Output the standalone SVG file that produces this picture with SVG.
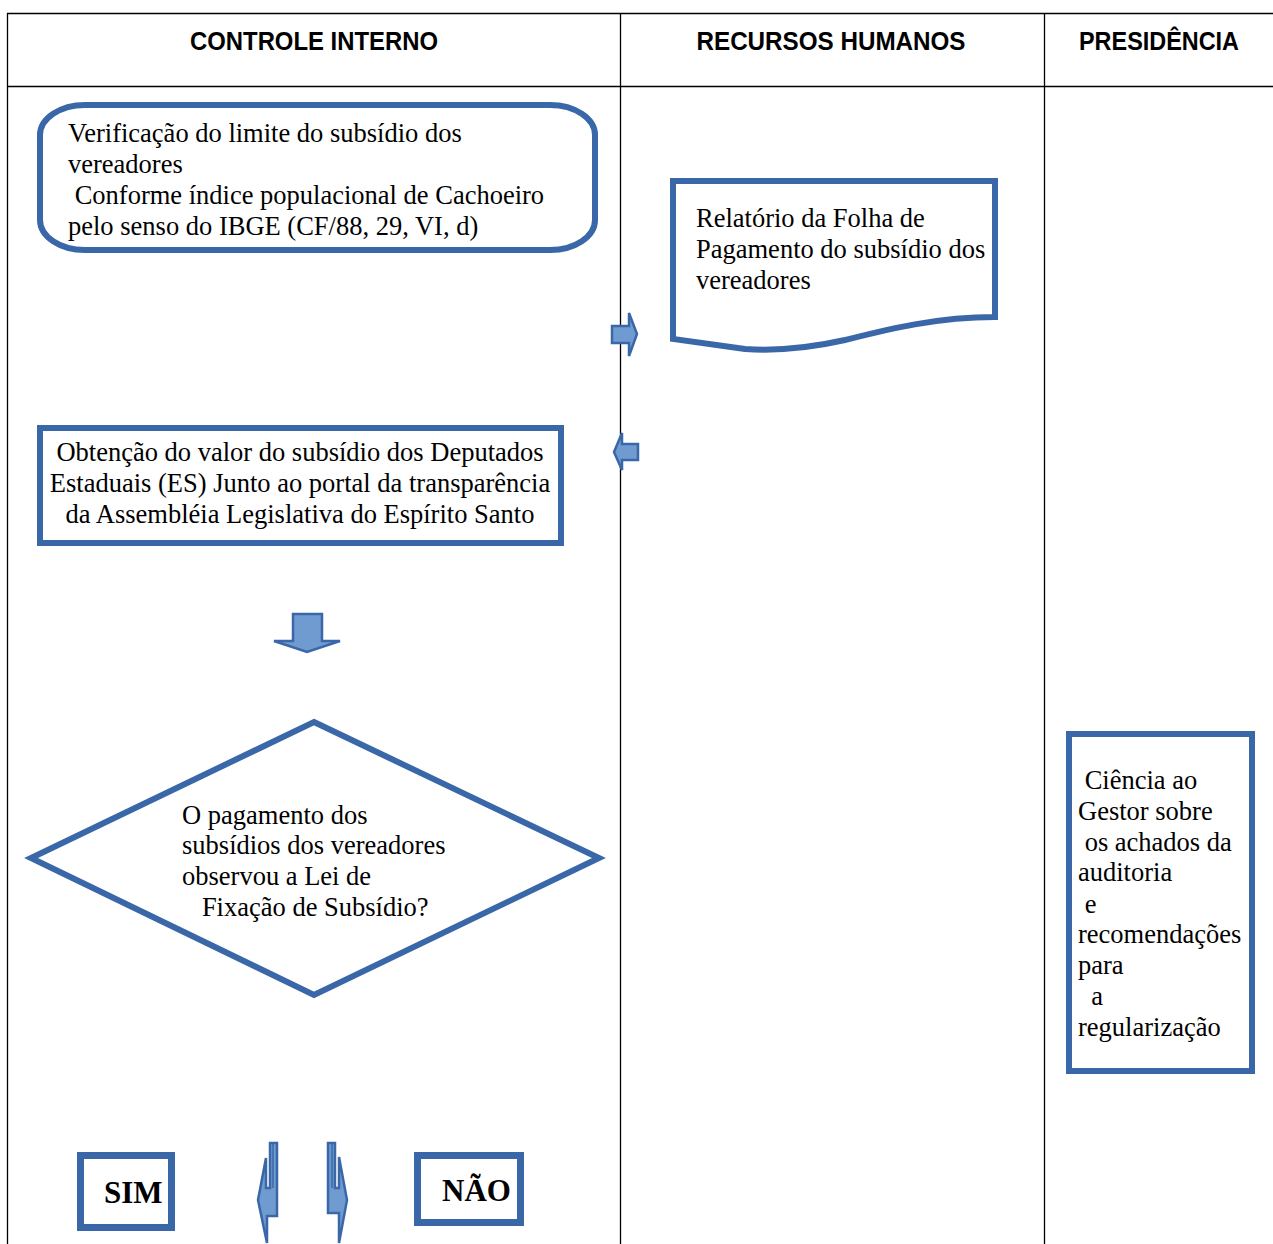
<svg xmlns="http://www.w3.org/2000/svg" width="1273" height="1244" viewBox="0 0 1273 1244">
  <style>
    .grid { stroke: #000; stroke-width: 1.3; fill: none; }
    .head { font-family: "Liberation Sans", Arial, sans-serif; font-weight: bold; font-size: 25px; fill: #000; }
    .box { fill: #fff; stroke: #3A67A8; stroke-width: 6; }
    .thick { fill: #fff; stroke: #3A67A8; stroke-width: 7; }
    .body { font-family: "Liberation Serif", "Times New Roman", serif; font-size: 26.5px; fill: #000; white-space: pre; }
    .bold { font-family: "Liberation Serif", "Times New Roman", serif; font-size: 31px; font-weight: bold; fill: #000; }
    .arrow { fill: #6F9BD0; stroke: #3A67A8; stroke-width: 2.5; stroke-linejoin: miter; }
  </style>

  <rect width="1273" height="1244" fill="#fff"/>

  <!-- swimlane table -->
  <g id="lanes">
    <line class="grid" x1="7" y1="13.5" x2="1273" y2="13.5"/>
    <line class="grid" x1="7" y1="86.5" x2="1273" y2="86.5"/>
    <line class="grid" x1="7.5" y1="13" x2="7.5" y2="1244"/>
    <line class="grid" x1="620.5" y1="13" x2="620.5" y2="1244"/>
    <line class="grid" x1="1044.5" y1="13" x2="1044.5" y2="1244"/>
    <text class="head" x="314" y="50" text-anchor="middle" textLength="248" lengthAdjust="spacingAndGlyphs">CONTROLE INTERNO</text>
    <text class="head" x="831" y="50" text-anchor="middle" textLength="269" lengthAdjust="spacingAndGlyphs">RECURSOS HUMANOS</text>
    <text class="head" x="1159" y="50" text-anchor="middle" textLength="160" lengthAdjust="spacingAndGlyphs">PRESIDÊNCIA</text>
  </g>

  <!-- start: limit check -->
  <g id="verificacao">
    <rect class="box" x="40" y="105" width="555" height="145" rx="45" ry="30"/>
    <text class="body" x="68" y="142">Verificação do limite do subsídio dos</text>
    <text class="body" x="68" y="173">vereadores</text>
    <text class="body" x="68" y="204"> Conforme índice populacional de Cachoeiro</text>
    <text class="body" x="68" y="235">pelo senso do IBGE (CF/88, 29, VI, d)</text>
  </g>

  <!-- payroll report document -->
  <g id="relatorio">
    <path class="box" d="M673,181 H995 V317 C935,317 885,330 845,340 C805,349 775,351 745,349 L673,339 Z"/>
    <text class="body" x="696" y="227">Relatório da Folha de</text>
    <text class="body" x="696" y="258">Pagamento do subsídio dos</text>
    <text class="body" x="696" y="289">vereadores</text>
  </g>

  <!-- state deputies salary lookup -->
  <g id="obtencao">
    <rect class="box" x="40" y="428" width="521" height="115"/>
    <text class="body" x="300" y="461" text-anchor="middle">Obtenção do valor do subsídio dos Deputados</text>
    <text class="body" x="300" y="492" text-anchor="middle">Estaduais (ES) Junto ao portal da transparência</text>
    <text class="body" x="300" y="523" text-anchor="middle">da Assembléia Legislativa do Espírito Santo</text>
  </g>

  <!-- decision -->
  <g id="decisao">
    <polygon class="box" points="314,722 599,858 314,995 31,858"/>
    <text class="body" x="182" y="824">O pagamento dos</text>
    <text class="body" x="182" y="854">subsídios dos vereadores</text>
    <text class="body" x="182" y="885">observou a Lei de</text>
    <text class="body" x="182" y="916">   Fixação de Subsídio?</text>
  </g>

  <!-- notice to manager -->
  <g id="ciencia">
    <rect class="box" x="1069" y="734" width="183" height="337"/>
    <text class="body" x="1078" y="789"> Ciência ao</text>
    <text class="body" x="1078" y="820">Gestor sobre</text>
    <text class="body" x="1078" y="851"> os achados da</text>
    <text class="body" x="1078" y="881">auditoria</text>
    <text class="body" x="1078" y="913"> e</text>
    <text class="body" x="1078" y="943">recomendações</text>
    <text class="body" x="1078" y="974">para</text>
    <text class="body" x="1078" y="1005">  a</text>
    <text class="body" x="1078" y="1036">regularização</text>
  </g>

  <!-- outcomes -->
  <g id="sim">
    <rect class="thick" x="80.5" y="1155.5" width="91" height="72"/>
    <text class="bold" x="104" y="1203">SIM</text>
  </g>
  <g id="nao">
    <rect class="thick" x="417.5" y="1155.5" width="103" height="67"/>
    <text class="bold" x="442" y="1201">NÃO</text>
  </g>

  <!-- block arrows -->
  <g id="connectors">
    <polygon class="arrow" points="612,326 629,326 629,313 637,334 629,356 629,343 612,343"/>
    <polygon class="arrow" points="638,444 622,444 622,433 614,452 622,470 622,460 638,460"/>
    <polygon class="arrow" points="293,614 322,614 322,641 340,641 307,652 274,641 293,641"/>
    <polygon class="arrow" points="270,1143 277,1143 277,1216 267,1216 267,1243 258,1200 266,1158 266,1188 270,1188"/>
    <line x1="273" y1="1143" x2="273" y2="1188" stroke="#3A67A8" stroke-width="1.5"/>
    <polygon class="arrow" points="335,1143 328,1143 328,1213 339,1213 339,1243 347,1200 339,1157 339,1188 335,1188"/>
    <line x1="332" y1="1143" x2="332" y2="1188" stroke="#3A67A8" stroke-width="1.5"/>
  </g>
</svg>
